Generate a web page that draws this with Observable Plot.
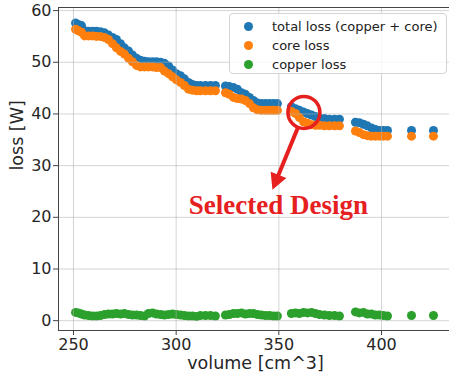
<!DOCTYPE html>
<html>
<head>
<meta charset="utf-8">
<script src="https://cdn.jsdelivr.net/npm/d3@7"></script>
<script src="https://cdn.jsdelivr.net/npm/@observablehq/plot@0.6"></script>
<style>
  body { margin: 0; background: #fff; }
  #chart { position: relative; width: 449px; height: 377px; font-family: "DejaVu Sans", sans-serif; overflow: hidden; }
  #chart svg { display: block; }
  .legend { position: absolute; left: 229px; top: 13px; width: 218px; height: 61px; box-sizing: border-box;
            border: 1px solid #d4d4d4; border-radius: 4px; background: rgba(255,255,255,0.8);
            font-size: 13px; color: #222; }
  .legend .item { position: absolute; left: 0; height: 19px; display: flex; align-items: center; white-space: nowrap; }
  .legend .sw { width: 9px; height: 9px; border-radius: 50%; margin-left: 14px; margin-right: 19px; }
</style>
</head>
<body>
<div id="chart"></div>
<script>
// Design sweep: volume of each candidate design [cm^3]
const volume = [
  251.0, 252.4, 253.9, 255.4, 257.3, 259.3, 261.2, 263.1, 265.1, 267.0,
  269.0, 270.9, 272.9, 274.8, 276.8, 278.7, 280.7, 282.6, 284.6, 286.5,
  288.5, 290.4, 292.4, 294.3, 296.3, 298.2, 300.1, 302.1, 304.0, 306.0,
  307.9, 309.9, 311.8, 314.3, 316.7, 319.1,
  324.0, 325.9, 327.9, 329.8, 331.8, 333.7, 335.7, 337.6, 339.6, 341.5, 343.5, 345.4, 347.4, 349.3,
  356.1, 358.1, 360.0, 362.0, 363.9, 365.9, 367.8, 369.8, 372.2, 374.6, 377.1, 379.5,
  387.3, 389.2, 391.2, 393.1, 395.1, 397.0, 399.0, 400.9, 402.9,
  414.6, 425.3
];
// Total loss (copper + core) [W]
const totalLoss = [
  57.6, 57.3, 57.1, 56.1, 56.0, 56.0, 56.0, 55.9, 55.7, 55.3,
  54.8, 54.4, 53.6, 52.8, 52.2, 51.4, 50.8, 50.4, 50.2, 50.1,
  50.1, 50.1, 50.0, 49.8, 49.3, 48.5, 47.8, 47.4, 46.8, 46.1,
  45.7, 45.5, 45.5, 45.5, 45.5, 45.5,
  45.4, 45.3, 45.1, 44.8, 44.1, 43.8, 43.2, 42.6, 42.1, 42.0, 42.0, 42.0, 42.0, 42.0,
  41.4, 41.0, 40.7, 40.4, 40.1, 39.8, 39.5, 39.2, 39.1, 39.0, 39.0, 39.0,
  38.4, 38.3, 38.0, 37.7, 37.3, 37.0, 36.8, 36.8, 36.8,
  36.8, 36.8
];
// Core loss [W]
const coreLoss = [
  56.4, 56.1, 55.8, 55.1, 55.1, 55.1, 55.0, 55.0, 54.8, 54.4,
  53.6, 52.8, 52.1, 51.6, 50.8, 50.1, 49.4, 49.1, 49.1, 49.1,
  49.1, 49.0, 49.0, 48.3, 47.8, 47.2, 46.6, 46.1, 45.5, 44.8,
  44.6, 44.5, 44.5, 44.5, 44.5, 44.5,
  44.1, 43.8, 43.2, 43.0, 42.9, 42.6, 42.0, 41.2, 40.8, 40.7, 40.7, 40.7, 40.7, 40.7,
  40.5, 40.1, 39.3, 38.5, 38.2, 37.9, 37.8, 37.8, 37.7, 37.7, 37.7, 37.7,
  36.7, 36.4, 36.0, 35.8, 35.7, 35.7, 35.7, 35.7, 35.7,
  35.7, 35.7
];
// Copper loss [W]
const copperLoss = [
  1.6, 1.5, 1.3, 1.1, 1.0, 0.9, 0.9, 1.0, 1.2, 1.3,
  1.3, 1.4, 1.3, 1.4, 1.2, 1.1, 1.1, 1.0, 0.9, 1.4,
  1.5, 1.3, 1.2, 1.1, 1.2, 1.3, 1.2, 1.1, 1.0, 0.9,
  0.9, 0.8, 1.0, 1.0, 1.0, 0.9,
  1.1, 1.2, 1.4, 1.4, 1.5, 1.3, 1.4, 1.4, 1.2, 1.1, 1.0, 1.0, 0.9, 0.9,
  1.4, 1.5, 1.4, 1.6, 1.5, 1.6, 1.4, 1.2, 1.1, 1.0, 1.0, 0.9,
  1.7, 1.5, 1.6, 1.3, 1.3, 1.1, 1.1, 1.0, 0.9,
  1.0, 1.0
];

const xTicks = [250, 300, 350, 400];
const yTicks = [0, 10, 20, 30, 40, 50, 60];
const xDomain = [242.7, 433.1];
const yDomain = [-1.9, 60.6];

const seriesNames = ["total loss (copper + core)", "core loss", "copper loss"];
const seriesColors = ["#1f77b4", "#ff7f0e", "#2ca02c"];

// Highlighted design and its callout
const selectedDesign = {volume: 362.2, loss: 40.3};
const calloutArrow = {x1: 359.1, y1: 37.2, x2: 349.1, y2: 27.5};
const calloutLabel = {volume: 349.8, loss: 22.3, text: "Selected Design"};
const red = "#e6201f";

const rows = volume.map((v, i) => ({volume: v, total: totalLoss[i], core: coreLoss[i], copper: copperLoss[i]}));

const gridStyle = {stroke: "#b0b0b0", strokeOpacity: 0.55, strokeWidth: 1};
const spine = {stroke: "#444", strokeWidth: 1};
const ink = "#262626";

const fig = Plot.plot({
  width: 449,
  height: 377,
  marginLeft: 58,
  marginRight: 0,
  marginTop: 7,
  marginBottom: 47,
  style: {fontFamily: "'DejaVu Sans', sans-serif", fontSize: "16px", color: ink, background: "#fff"},
  x: {domain: xDomain},
  y: {domain: yDomain},
  marks: [
    Plot.dot(rows, {x: "volume", y: "total", r: 4.5, fill: seriesColors[0]}),
    Plot.dot(rows, {x: "volume", y: "core", r: 4.5, fill: seriesColors[1]}),
    Plot.dot(rows, {x: "volume", y: "copper", r: 4.5, fill: seriesColors[2]}),
    Plot.gridX(xTicks, gridStyle),
    Plot.gridY(yTicks, gridStyle),
    Plot.ruleX([xDomain[0]], spine),
    Plot.ruleY(yDomain, spine),
    Plot.axisX(xTicks, {tickSize: 5, tickPadding: 3, label: null, stroke: "#444", fontSize: 16}),
    Plot.axisY(yTicks, {tickSize: 5, tickPadding: 2, label: null, stroke: "#444", fontSize: 16}),
    Plot.text(["volume [cm^3]"], {frameAnchor: "bottom", lineAnchor: "middle", dy: 33, dx: 1.5, fontSize: 17.5, fill: ink}),
    Plot.text(["loss [W]"], {frameAnchor: "left", lineAnchor: "middle", rotate: -90, dx: -41, dy: 1.5, fontSize: 17.5, fill: ink}),
    Plot.dot([selectedDesign], {x: "volume", y: "loss", r: 16, stroke: red, strokeWidth: 3.5, fill: "none"}),
    Plot.link([calloutArrow], {x1: "x1", y1: "y1", x2: "x2", y2: "y2", stroke: red, strokeWidth: 4, markerEnd: "arrow"}),
    Plot.text([calloutLabel], {x: "volume", y: "loss", text: "text", fill: red,
      fontFamily: "'Liberation Serif', 'Times New Roman', serif", fontWeight: "bold", fontSize: 27})
  ]
});

// Filled triangular head for the callout arrow
fig.querySelectorAll("marker").forEach(m => {
  m.setAttribute("markerUnits", "userSpaceOnUse");
  m.setAttribute("viewBox", "-20 -20 40 40");
  m.setAttribute("markerWidth", 40);
  m.setAttribute("markerHeight", 40);
  m.setAttribute("fill", red);
  m.setAttribute("stroke", "none");
  m.querySelectorAll("path").forEach(p => p.setAttribute("d", "M-4,-8.5L12,0L-4,8.5Z"));
});

const chart = document.getElementById("chart");
chart.appendChild(fig);

// Legend box over the upper-right corner of the axes
const legend = document.createElement("div");
legend.className = "legend";
seriesNames.forEach((name, i) => {
  const item = document.createElement("div");
  item.className = "item";
  item.style.top = (2.5 + i * 19) + "px";
  const sw = document.createElement("span");
  sw.className = "sw";
  sw.style.background = seriesColors[i];
  const label = document.createElement("span");
  label.textContent = name;
  item.appendChild(sw);
  item.appendChild(label);
  legend.appendChild(item);
});
chart.appendChild(legend);
</script>
</body>
</html>
